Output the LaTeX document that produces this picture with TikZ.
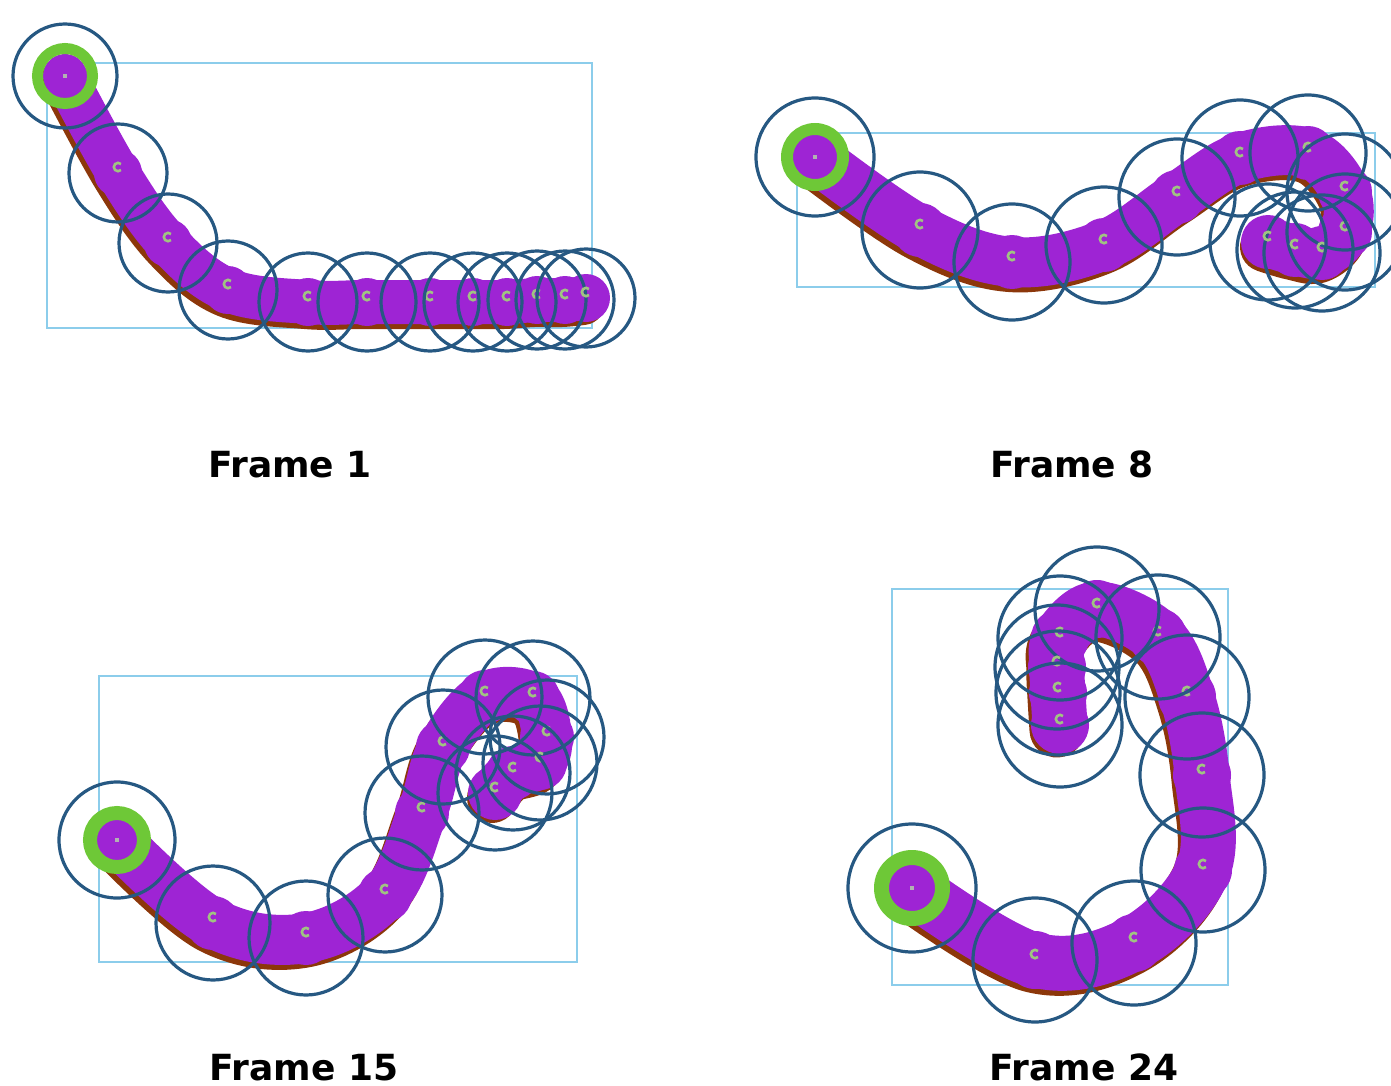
\documentclass[tikz,border=0pt]{standalone}
\usepackage{fontspec}
\setmainfont{DejaVu Sans}
\usepackage{tikz}
\definecolor{boxblue}{RGB}{140,205,235}
\definecolor{jointblue}{RGB}{38,88,130}
\definecolor{wormpurple}{RGB}{158,36,212}
\definecolor{wormbrown}{RGB}{140,55,10}
\definecolor{ringgreen}{RGB}{110,200,55}
\definecolor{markgreen}{RGB}{160,195,130}

\begin{document}
\begin{tikzpicture}[x=1pt, y=-1pt,
  bbox/.style={draw=boxblue, line width=2},
  joint/.style={draw=jointblue, line width=3.2},
  wormline/.style={line cap=round, line join=round},
  headring/.style={draw=ringgreen},
  cmark/.style={draw=markgreen, line width=2.6},
  headdot/.style={fill=gray!60},
  framelabel/.style={font=\bfseries\fontsize{36}{40}\selectfont, anchor=base}
]
\useasboundingbox (0,0) rectangle (1391,1086);

% Frame 1
\draw[bbox] (47,63) rectangle (592,328);
\foreach \dx/\dy/\col in {-3/-5/wormbrown, 0/0/wormpurple}
  \draw[wormline, draw=\col, line width=44, xshift=\dx, yshift=\dy] plot[smooth, tension=0.6] coordinates {(65,76) (118,173) (168,243) (228,290) (308,302) (367,302) (430,302) (473,302) (507,302) (537,300) (565,300) (586,298)};
\foreach \p in {(118,173),(168,243),(228,290),(308,302),(367,302),(430,302),(473,302),(507,302),(537,300),(565,300),(586,298)}
  \fill[wormpurple] \p circle (24);
\draw[headring, line width=11] (65,76) circle (27.5);
\fill[headdot] (63,74) rectangle (67,78);
\draw[joint] (65,76) circle (52);
\foreach \p in {(118,173),(168,243),(228,290),(308,302),(367,302),(430,302),(473,302),(507,302),(537,300),(565,300),(586,298)}{
  \draw[joint] \p circle (49);
  \draw[cmark] \p ++(3,-3) arc[start angle=45, end angle=315, radius=4.2];
}
\node[framelabel] (lab1) at (290,477) {Frame 1};

% Frame 8
\draw[bbox] (797,133) rectangle (1375,287);
\foreach \dx/\dy/\col in {-3/-5/wormbrown, 0/0/wormpurple}
  \draw[wormline, draw=\col, line width=50, xshift=\dx, yshift=\dy] plot[smooth, tension=0.6] coordinates {(815,157) (920,230) (1012,262) (1104,245) (1177,197) (1240,158) (1308,153) (1345,192) (1345,232) (1322,253) (1295,250) (1268,242)};
\foreach \p in {(920,230),(1012,262),(1104,245),(1177,197),(1240,158),(1308,153),(1345,192),(1345,232),(1322,253),(1295,250),(1268,242)}
  \fill[wormpurple] \p circle (27);
\draw[headring, line width=12] (815,157) circle (28);
\fill[headdot] (813,155) rectangle (817,159);
\draw[joint] (815,157) circle (59);
\foreach \p in {(920,230),(1012,262),(1104,245),(1177,197),(1240,158),(1308,153),(1345,192),(1345,232),(1322,253),(1295,250),(1268,242)}{
  \draw[joint] \p circle (58);
  \draw[cmark] \p ++(3,-3) arc[start angle=45, end angle=315, radius=4.2];
}
\node[framelabel] (lab8) at (1072,477) {Frame 8};

% Frame 15
\draw[bbox] (99,676) rectangle (577,962);
\foreach \dx/\dy/\col in {-3/-5/wormbrown, 0/0/wormpurple}
  \draw[wormline, draw=\col, line width=50, xshift=\dx, yshift=\dy] plot[smooth, tension=0.6] coordinates {(117,840) (213,923) (306,938) (385,895) (422,813) (443,747) (485,697) (533,698) (547,737) (540,763) (513,773) (495,793)};
\foreach \p in {(213,923),(306,938),(385,895),(422,813),(443,747),(485,697),(533,698),(547,737),(540,763),(513,773),(495,793)}
  \fill[wormpurple] \p circle (27);
\draw[headring, line width=14] (117,840) circle (27);
\fill[headdot] (115,838) rectangle (119,842);
\draw[joint] (117,840) circle (58);
\foreach \p in {(213,923),(306,938),(385,895),(422,813),(443,747),(485,697),(533,698),(547,737),(540,763),(513,773),(495,793)}{
  \draw[joint] \p circle (57);
  \draw[cmark] \p ++(3,-3) arc[start angle=45, end angle=315, radius=4.2];
}
\node[framelabel] (lab15) at (304,1080) {Frame 15};

% Frame 24
\draw[bbox] (892,589) rectangle (1228,985);
\foreach \dx/\dy/\col in {-3/-5/wormbrown, 0/0/wormpurple}
  \draw[wormline, draw=\col, line width=55, xshift=\dx, yshift=\dy] plot[smooth, tension=0.6] coordinates {(912,888) (1035,960) (1134,943) (1203,870) (1202,775) (1187,697) (1158,637) (1097,609) (1060,638) (1057,667) (1058,693) (1060,725)};
\foreach \p in {(1035,960),(1134,943),(1203,870),(1202,775),(1187,697),(1158,637),(1097,609),(1060,638),(1057,667),(1058,693),(1060,725)}
  \fill[wormpurple] \p circle (29);
\draw[headring, line width=15] (912,888) circle (30.5);
\fill[headdot] (910,886) rectangle (914,890);
\draw[joint] (912,888) circle (64);
\foreach \p in {(1035,960),(1134,943),(1203,870),(1202,775),(1187,697),(1158,637),(1097,609),(1060,638),(1057,667),(1058,693),(1060,725)}{
  \draw[joint] \p circle (62);
  \draw[cmark] \p ++(3,-3) arc[start angle=45, end angle=315, radius=4.2];
}
\node[framelabel] (lab24) at (1084,1080) {Frame 24};
\end{tikzpicture}
\end{document}
